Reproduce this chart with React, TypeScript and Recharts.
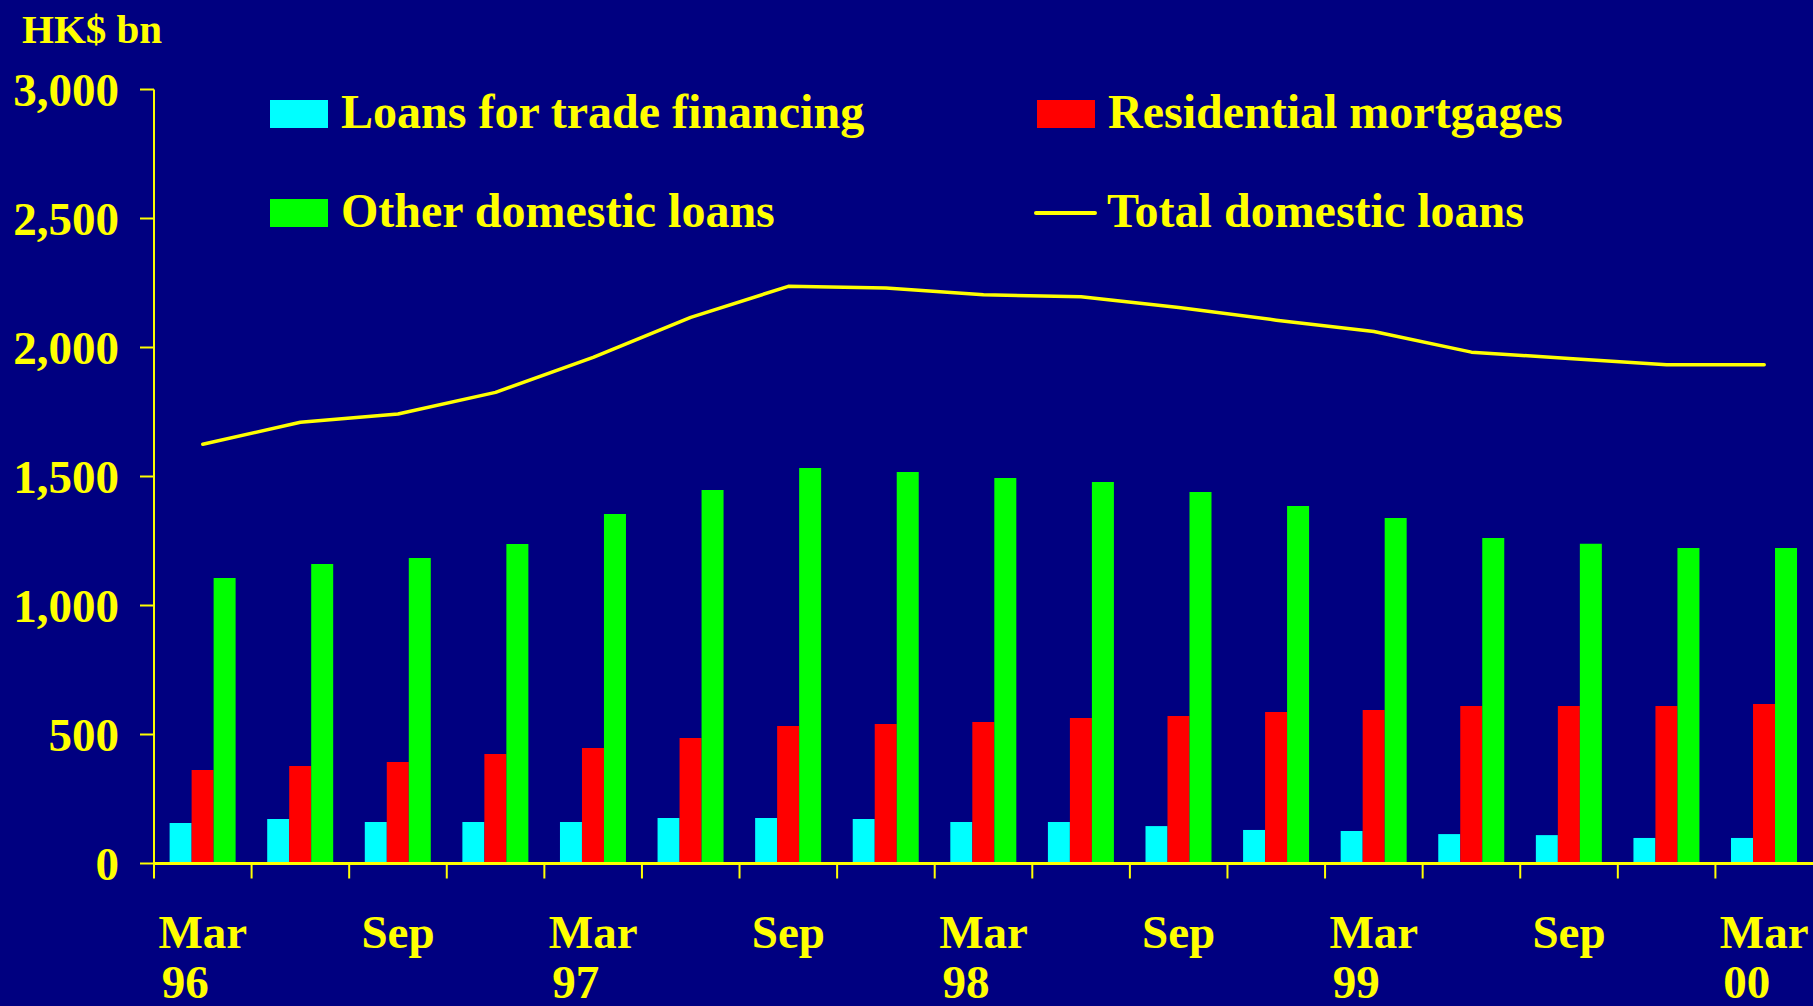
import { ComposedChart, Bar, Line, XAxis, YAxis, Legend } from 'recharts'

const quarters = [
  'Mar 96', 'Jun 96', 'Sep 96', 'Dec 96',
  'Mar 97', 'Jun 97', 'Sep 97', 'Dec 97',
  'Mar 98', 'Jun 98', 'Sep 98', 'Dec 98',
  'Mar 99', 'Jun 99', 'Sep 99', 'Dec 99',
  'Mar 00',
]
const tradeFinancing = [157, 172, 161, 161, 161, 176, 176, 172, 161, 161, 145, 130, 126, 114, 110, 99, 99]
const residentialMortgages = [362, 378, 393, 424, 448, 486, 533, 541, 548, 564, 572, 587, 595, 610, 610, 610, 618]
const otherDomestic = [1107, 1161, 1184, 1238, 1355, 1448, 1533, 1517, 1494, 1479, 1440, 1386, 1339, 1262, 1239, 1223, 1223]
const totalDomestic = [1625, 1710, 1742, 1826, 1962, 2117, 2237, 2231, 2204, 2197, 2155, 2106, 2062, 1982, 1957, 1933, 1933]
const yTicks = [0, 500, 1000, 1500, 2000, 2500, 3000]

const data = quarters.map((q, i) => ({
  quarter: q,
  trade: tradeFinancing[i],
  mortgages: residentialMortgages[i],
  other: otherDomestic[i],
  total: totalDomestic[i],
}))

const W = 1813
const H = 1006
const Y_AXIS_W = 154
const BAND = (W - Y_AXIS_W) / quarters.length

const NAVY = '#000080'
const YELLOW = '#ffff00'
const CYAN = '#00ffff'
const RED = '#ff0000'
const GREEN = '#00ff00'
const FONT = "'Liberation Serif', 'Times New Roman', serif"

const legendItems = [
  { label: 'Loans for trade financing', color: CYAN, line: false, x: 270, y: 100 },
  { label: 'Residential mortgages', color: RED, line: false, x: 1037, y: 100 },
  { label: 'Other domestic loans', color: GREEN, line: false, x: 270, y: 199 },
  { label: 'Total domestic loans', color: YELLOW, line: true, x: 1036, y: 199 },
]

function ChartLegend() {
  return (
    <svg width={W} height={250} style={{ display: 'block' }}>
      <text x={22} y={43} fill={YELLOW} fontFamily={FONT} fontWeight="bold" fontSize={41}>
        HK$ bn
      </text>
      {legendItems.map(item => (
        <g key={item.label}>
          {item.line ? (
            <line x1={item.x} y1={item.y + 14} x2={item.x + 59} y2={item.y + 14}
              stroke={item.color} strokeWidth={4} strokeLinecap="round" />
          ) : (
            <rect x={item.x} y={item.y} width={58} height={28} fill={item.color} />
          )}
          <text x={item.x + 71} y={item.y + 28} fill={YELLOW} fontFamily={FONT}
            fontWeight="bold" fontSize={48}>
            {item.label}
          </text>
        </g>
      ))}
    </svg>
  )
}

function QuarterTick(props: any) {
  const { x, y, payload } = props
  const [month, year] = String(payload.value).split(' ')
  const edge = x - BAND / 2
  const txt = { fill: YELLOW, fontFamily: FONT, fontWeight: 'bold' as const, fontSize: 47 }
  return (
    <g>
      <line x1={edge} y1={y} x2={edge} y2={y + 15} stroke={YELLOW} strokeWidth={2} />
      {(month === 'Mar' || month === 'Sep') && (
        <text x={x} y={y + 84} textAnchor="middle" {...txt}>{month}</text>
      )}
      {month === 'Mar' && (
        <text x={x - 41} y={y + 134} {...txt}>{year}</text>
      )}
    </g>
  )
}

export default function App() {
  return (
    <div style={{ position: 'absolute', top: 0, left: 0, width: W, height: H, background: NAVY, overflow: 'hidden' }}>
      <ComposedChart
        width={W}
        height={H}
        data={data}
        margin={{ top: 89.5, right: 0, bottom: 0, left: 0 }}
        barCategoryGap="16%"
        barGap={0}
      >
        <XAxis
          dataKey="quarter"
          height={142.5}
          interval={0}
          tickSize={0}
          tickMargin={0}
          tickLine={false}
          axisLine={{ stroke: YELLOW, strokeWidth: 3 }}
          tick={<QuarterTick />}
        />
        <YAxis
          width={Y_AXIS_W}
          domain={[0, 3000]}
          ticks={yTicks}
          interval={0}
          tickSize={14}
          tickMargin={21}
          axisLine={{ stroke: YELLOW, strokeWidth: 2 }}
          tickLine={{ stroke: YELLOW, strokeWidth: 2 }}
          tick={{ fill: YELLOW, fontSize: 47, fontWeight: 'bold', fontFamily: FONT }}
          tickFormatter={(v: number) => v.toLocaleString('en-US')}
        />
        <Legend
          layout="horizontal"
          verticalAlign="middle"
          align="center"
          wrapperStyle={{ top: 0, left: 0, width: W, height: 250 }}
          content={() => <ChartLegend />}
        />
        <Bar dataKey="trade" name="Loans for trade financing" fill={CYAN} isAnimationActive={false} />
        <Bar dataKey="mortgages" name="Residential mortgages" fill={RED} isAnimationActive={false} />
        <Bar dataKey="other" name="Other domestic loans" fill={GREEN} isAnimationActive={false} />
        <Line
          dataKey="total"
          name="Total domestic loans"
          stroke={YELLOW}
          strokeWidth={3.5}
          dot={false}
          activeDot={false}
          strokeLinejoin="round"
          strokeLinecap="round"
          isAnimationActive={false}
        />
      </ComposedChart>
    </div>
  )
}
